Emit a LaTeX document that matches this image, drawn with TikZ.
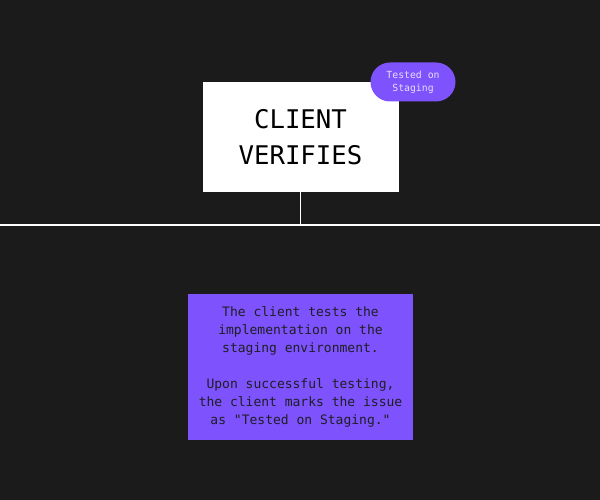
\documentclass[tikz,border=0pt]{standalone}
\usepackage{fontspec}
\setmonofont{DejaVu Sans Mono}
\definecolor{bgdark}{RGB}{27, 27, 27}
\definecolor{stagepurple}{RGB}{126, 82, 252}
\definecolor{taglight}{RGB}{232, 224, 255}
\definecolor{inkdark}{RGB}{30, 30, 36}
\usepackage{tikz}
\usetikzlibrary{positioning, calc}
\tikzset{
  cardnode/.style={draw=none, fill=white, minimum width=196pt, minimum height=110pt, inner sep=2pt, align=center, text=black, font=\ttfamily\fontsize{25.7}{36}\selectfont},
  tagnode/.style={fill=stagepurple, rounded corners=19.5pt, minimum width=85pt, minimum height=39pt, inner sep=1pt, align=center, text=taglight, font=\ttfamily\fontsize{9.8}{12.7}\selectfont},
  descnode/.style={fill=stagepurple, minimum width=225.6pt, minimum height=146.7pt, inner sep=2pt, align=center, text=inkdark, font=\ttfamily\fontsize{13}{18}\selectfont},
  railline/.style={white, line width=2pt},
  stemline/.style={white, line width=1.5pt},
}
\begin{document}
\begin{tikzpicture}[x=1pt, y=-1pt]
  \fill[bgdark] (0,0) rectangle (600,500);
  \useasboundingbox (0,0) rectangle (600,500);
  % timeline
  \coordinate (railL) at (0,225);
  \coordinate (railR) at (600,225);
  \coordinate (stemfoot) at (300.5,225);
  \draw[railline] (railL)--(railR);
  \node[cardnode] (card) at (300.5,136.7) {CLIENT\\VERIFIES};
  \draw[stemline] (card.south)--(stemfoot);
  \node[tagnode] (tag) at (413,82) {Tested on\\Staging};
  \node[descnode, below=101.6pt of card] (desc) {The client tests the\\implementation on the\\staging environment.\\[18pt]Upon successful testing,\\the client marks the issue\\as "Tested on Staging."};
\end{tikzpicture}
\end{document}
